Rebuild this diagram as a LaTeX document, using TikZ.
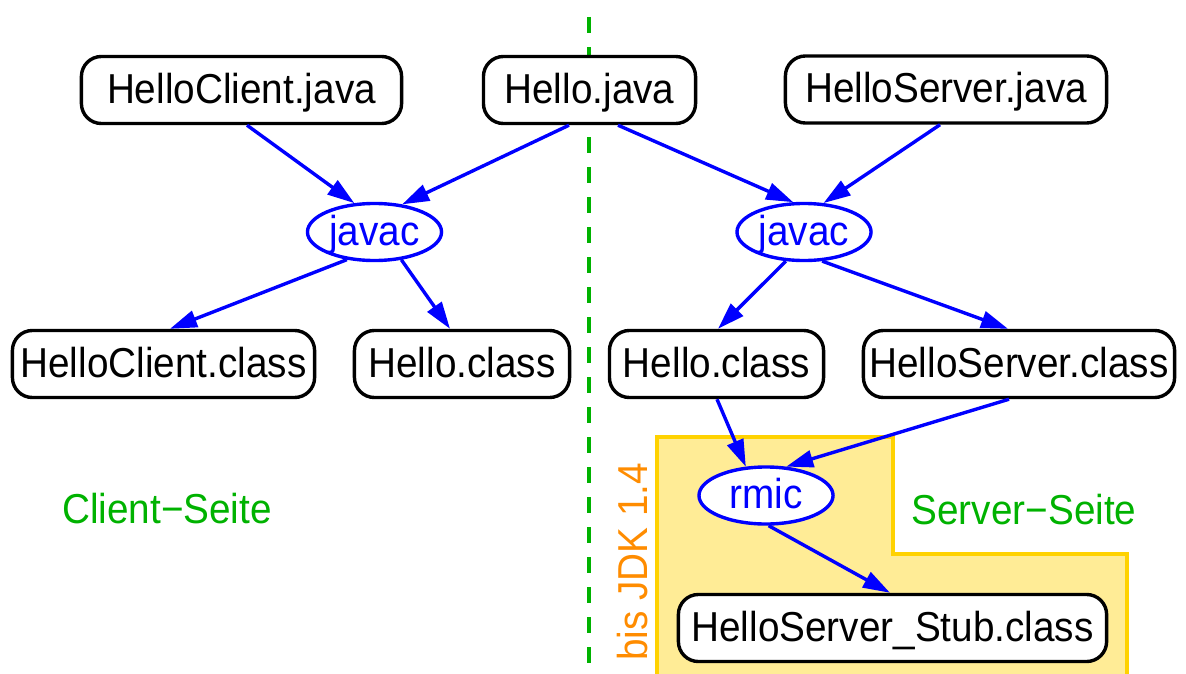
\documentclass[tikz,border=0pt]{standalone}
\usepackage{fontspec}
\setmainfont{Liberation Sans}[FakeStretch=0.925]
\usetikzlibrary{shapes.geometric,arrows.meta}
\definecolor{sideGreen}{RGB}{0,178,0}
\definecolor{jdkYellow}{RGB}{255,236,150}
\definecolor{jdkGold}{RGB}{255,210,0}
\definecolor{jdkOrange}{RGB}{255,140,0}

\begin{document}
\begin{tikzpicture}
[x=0.01cm,y=-0.01cm,
  font=\fontsize{11.9}{14}\selectfont,
  fileDecorate/.style={shape=rectangle,rounded corners=0.2cm,draw,fill=white,line width=0.034cm,%
    minimum height=0.67cm,inner sep=0pt,text height=0.88em,text depth=0.14em},%
  toolDecorate/.style={shape=ellipse,draw=blue,text=blue,fill=white,line width=0.034cm,%
    minimum width=1.34cm,minimum height=0.57cm,inner sep=0pt,text height=0.88em,text depth=0.14em},%
  lineDecorate/.style={-{Triangle[length=0.27cm,width=0.17cm]},draw=blue,line width=0.034cm},%
  sideDecorate/.style={text=sideGreen,inner sep=0pt,text height=0.88em,text depth=0.14em}]
\useasboundingbox (0,0) rectangle (1186,673);
%% rmic area and client/server border
\path[fill=jdkYellow] (657,680) -- (657,437) -- (893,437) -- (893,554) -- (1127,554) -- (1127,680) -- cycle;
\draw[jdkGold,line width=0.034cm] (657,680) -- (657,437) -- (893,437) -- (893,554) -- (1127,554) -- (1127,680);
\draw[sideGreen,line width=0.034cm,dash pattern=on 0.155cm off 0.145cm] (589,17) -- (589,680);
%% files
\foreach \nodename/\x/\y/\w/\nodetext in {hcj/241.5/90/3.20/HelloClient.java, hj/589.5/90/2.12/Hello.java,
  hsj/946/89.5/3.21/HelloServer.java, hcc/163.5/364/3.02/HelloClient.class, hclL/462/364/2.15/Hello.class,
  hclR/716.5/364/2.14/Hello.class, hsc/1019/364/3.11/HelloServer.class, stub/892.5/628/4.28/HelloServer\_Stub.class}
{
  \node (\nodename) at (\x,\y) [fileDecorate,minimum width=\w cm] {\nodetext};
}
%% tools
\foreach \nodename/\x/\y/\nodetext in {javacL/374.5/232/javac, javacR/804/232/javac, rmic/766/495.5/rmic}
{
  \node (\nodename) at (\x,\y) [toolDecorate] {\nodetext};
}
%% labels
\node (clientside) at (167,510) [sideDecorate] {Client−Seite};
\node (serverside) at (1024,511) [sideDecorate] {Server−Seite};
\node (jdk) at (634,562) [sideDecorate,text=jdkOrange,rotate=90] {bis JDK 1.4};
%% edges
\path
\foreach \startnode/\sx/\endnode/\ex in {hcj.south/0.055/javacL.125/0, hj.south/-0.205/javacL.45/0,
  hj.south/0.285/javacR.110/0, hsj.south/-0.06/javacR.56/0, javacL.225/0/hcc.north/0.065,
  javacL.314/0/hclL.north/-0.12, javacR.238/0/hclR.north/0.015, javacR.302/0/hsc.north/-0.11,
  hclR.south/0.005/rmic.125/0, hsc.south/-0.1/rmic.55/0, rmic.275/0/stub.north/-0.025}
{
  ([xshift=\sx cm]\startnode) edge[lineDecorate] ([xshift=\ex cm]\endnode)
};
\end{tikzpicture}
\end{document}
